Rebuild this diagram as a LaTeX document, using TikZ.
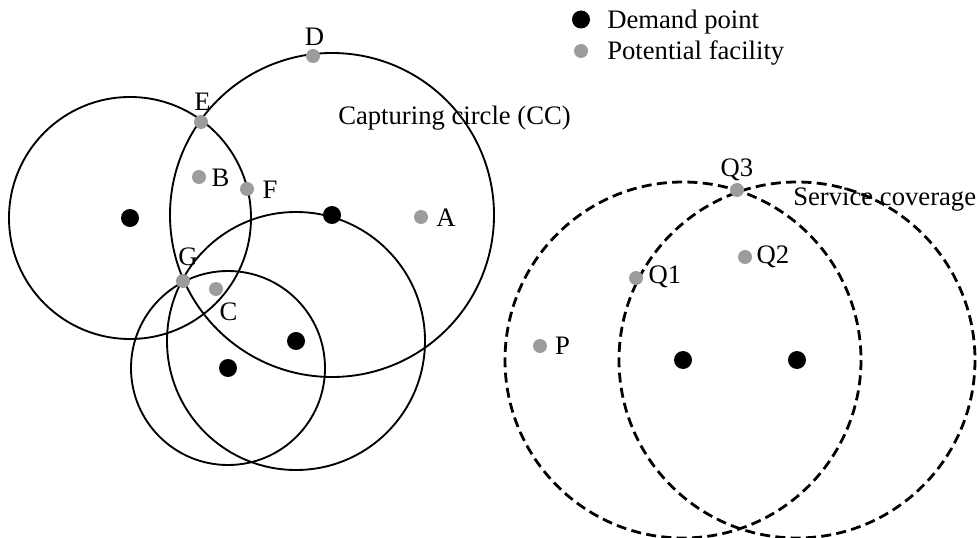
\documentclass[tikz,border=0pt]{standalone}
\usepackage{fontspec}
\setmainfont{Liberation Serif}
\usetikzlibrary{positioning,backgrounds}
\definecolor{ccink}{HTML}{000000}
\definecolor{ccgrey}{HTML}{9C9C9C}
\tikzset{
  cc text/.style={font=\fontsize{20}{24}\selectfont, text=ccink},
  cc demand/.style={circle, fill=ccink, inner sep=0pt, minimum size=13.5pt},
  cc facility/.style={circle, fill=ccgrey, inner sep=0pt, minimum size=10.5pt},
  cc ring/.style={draw=ccink, line width=1.4pt},
  cc coverage/.style={draw=ccink, line width=2.1pt, dash pattern=on 7.5pt off 4pt},
  cc label/.style={inner sep=0pt, font=\fontsize{20}{24}\selectfont}
}

\begin{document}
\begin{tikzpicture}[cc text, x=0.75pt, y=-0.75pt]
  \useasboundingbox (0,0) rectangle (977,538);
  % demand points
  \node[cc demand] (d1) at (130,218) {};
  \node[cc demand] (d2) at (332,215) {};
  \node[cc demand] (d3) at (296,341) {};
  \node[cc demand] (d4) at (228,368) {};
  \node[cc demand] (d5) at (683,360) {};
  \node[cc demand] (d6) at (797,360) {};
  % potential facilities
  \node[cc facility] (fA) at (421,217) {};
  \node[cc facility] (fB) at (199,177) {};
  \node[cc facility] (fC) at (216,289) {};
  \node[cc facility] (fD) at (313,56) {};
  \node[cc facility] (fE) at (201,122) {};
  \node[cc facility] (fF) at (247,189) {};
  \node[cc facility] (fG) at (183,281) {};
  \node[cc facility] (fP) at (540,346) {};
  \node[cc facility] (fQ1) at (636,278) {};
  \node[cc facility] (fQ2) at (745,257) {};
  \node[cc facility] (fQ3) at (737,190) {};
  % circles
  \begin{scope}[on background layer]
    \draw[cc ring] (d1) circle[radius=121];
    \draw[cc ring] (d2) circle[radius=162];
    \draw[cc ring] (d3) circle[radius=129];
    \draw[cc ring] (d4) circle[radius=97];
    \draw[cc coverage] (d5) circle[radius=178];
    \draw[cc coverage] (d6) circle[radius=178];
  \end{scope}
  % labels
  \node[cc label] (lA) at (446,218) {A};
  \node[cc label] (lB) at (220.5,178) {B};
  \node[cc label] (lC) at (228.5,311.5) {C};
  \node[cc label] (lD) at (314.5,36.5) {D};
  \node[cc label] (lE) at (202.5,101.5) {E};
  \node[cc label] (lF) at (270,189.5) {F};
  \node[cc label] (lG) at (188,257) {G};
  \node[cc label] (lP) at (562.5,346) {P};
  \node[cc label] (lQ1) at (665,277) {Q1};
  \node[cc label] (lQ2) at (773,257) {Q2};
  \node[cc label] (lQ3) at (737,169.5) {Q3};
  \node[cc label, anchor=base west] (capcc) at (338,125) {Capturing circle (CC)};
  \node[cc label, anchor=base west] (service) at (793,206) {Service coverage};
  % legend
  \node[cc demand] (keyd) at (581,19.5) {};
  \node[cc facility] (keyf) at (581,51) {};
  \node[cc label, anchor=base west] (keydtext) at (607,28.3) {Demand point};
  \node[cc label, anchor=base west] (keyftext) at (607,60) {Potential facility};
\end{tikzpicture}
\end{document}
